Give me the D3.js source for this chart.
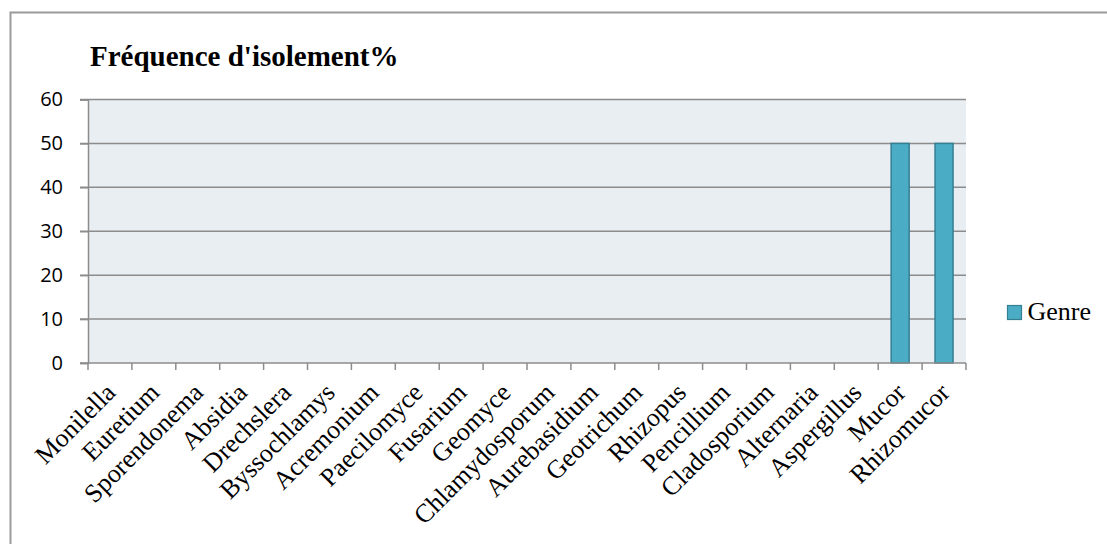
<!DOCTYPE html>
<html>
<head>
<meta charset="utf-8">
<script src="https://cdn.jsdelivr.net/npm/d3@7"></script>
<style>
  body { margin: 0; background: #fff; }
  svg { display: block; }
</style>
</head>
<body>
<svg id="chart" width="1107" height="544"></svg>
<script>
const genres = ["Monilella", "Euretium", "Sporendonema", "Absidia", "Drechslera", "Byssochlamys",
  "Acremonium", "Paecilomyce", "Fusarium", "Geomyce", "Chlamydosporum", "Aurebasidium",
  "Geotrichum", "Rhizopus", "Pencillium", "Cladosporium", "Alternaria", "Aspergillus",
  "Mucor", "Rhizomucor"];
const frequence = [0, 0, 0, 0, 0, 0, 0, 0, 0, 0, 0, 0, 0, 0, 0, 0, 0, 0, 50, 50];
const yTicks = [0, 10, 20, 30, 40, 50, 60];
const seriesName = "Genre";

const svg = d3.select("#chart");
const W = 1107, H = 544;
const plot = { left: 88, top: 99.5, right: 966, bottom: 363 };
const serif = "'Liberation Serif', 'Times New Roman', serif";

// outer frame (only top and left visible)
svg.append("path")
  .attr("d", `M10.5 ${H} L10.5 12.5 L${W} 12.5`)
  .attr("fill", "none")
  .attr("stroke", "#9a9a9a")
  .attr("stroke-width", 2);

svg.append("text")
  .attr("x", 90).attr("y", 66)
  .attr("font-family", serif)
  .attr("font-weight", "bold")
  .attr("font-size", 29)
  .text("Fréquence d'isolement%");

const x = d3.scaleBand().domain(genres).range([plot.left, plot.right]);
const y = d3.scaleLinear().domain([0, 60]).range([plot.bottom, plot.top]);

svg.append("rect")
  .attr("x", plot.left).attr("y", plot.top)
  .attr("width", plot.right - plot.left).attr("height", plot.bottom - plot.top)
  .attr("fill", "#e8eef2");

// gridlines
svg.append("g")
  .selectAll("line")
  .data(yTicks.filter(d => d > 0))
  .join("line")
  .attr("x1", plot.left - 8).attr("x2", plot.right)
  .attr("y1", d => y(d)).attr("y2", d => y(d))
  .attr("stroke", "#8c8c8c")
  .attr("stroke-width", 1.5);

// y axis
const yAxis = svg.append("g")
  .attr("transform", `translate(${plot.left},0)`)
  .call(d3.axisLeft(y).tickValues(yTicks).tickSize(8).tickPadding(17));
yAxis.select(".domain").attr("stroke", "#8c8c8c").attr("stroke-width", 1.5);
yAxis.selectAll(".tick line").attr("stroke", "#8c8c8c").attr("stroke-width", 1.5);
yAxis.selectAll(".tick text")
  .attr("font-family", "'Open Sans', 'Liberation Sans', sans-serif")
  .attr("font-size", 20)
  .attr("fill", "#000");

// bars
svg.append("g")
  .selectAll("rect")
  .data(genres.map((g, i) => ({ g, v: frequence[i] })).filter(d => d.v > 0))
  .join("rect")
  .attr("x", d => x(d.g) + x.bandwidth() * 0.295)
  .attr("width", x.bandwidth() * 0.41)
  .attr("y", d => y(d.v))
  .attr("height", d => y(0) - y(d.v))
  .attr("fill", "#4bacc6")
  .attr("stroke", "#357f93")
  .attr("stroke-width", 1.5);

// x axis with category boundary ticks
const xg = svg.append("g");
xg.append("line")
  .attr("x1", plot.left - 8).attr("x2", plot.right)
  .attr("y1", plot.bottom).attr("y2", plot.bottom)
  .attr("stroke", "#8c8c8c").attr("stroke-width", 1.5);
xg.selectAll("line.tk")
  .data(genres.map(g => x(g)).concat([plot.right]))
  .join("line")
  .attr("class", "tk")
  .attr("x1", d => d).attr("x2", d => d)
  .attr("y1", plot.bottom).attr("y2", plot.bottom + 7)
  .attr("stroke", "#8c8c8c").attr("stroke-width", 1.5);

xg.selectAll("text")
  .data(genres)
  .join("text")
  .attr("transform", d => `translate(${x(d) + x.bandwidth() / 2 + 7},${plot.bottom + 31}) rotate(-45)`)
  .attr("text-anchor", "end")
  .attr("font-family", serif)
  .attr("font-size", 26)
  .attr("fill", "#000")
  .text(d => d);

// legend
const lg = svg.append("g").attr("transform", "translate(1007.5,305.5)");
lg.append("rect")
  .attr("width", 14).attr("height", 14)
  .attr("fill", "#4bacc6").attr("stroke", "#357f93").attr("stroke-width", 1.2);
lg.append("text")
  .attr("x", 20).attr("y", 14.5)
  .attr("font-family", serif)
  .attr("font-size", 26)
  .text(seriesName);
</script>
</body>
</html>
